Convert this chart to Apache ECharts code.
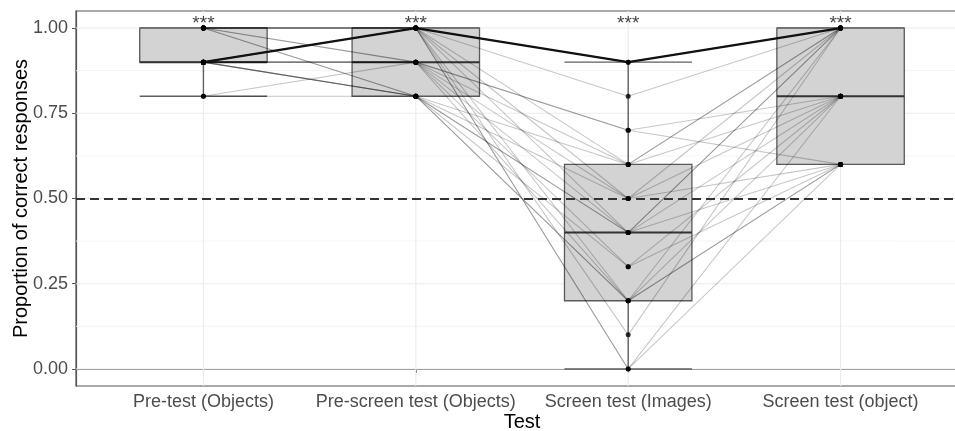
<!DOCTYPE html>
<html><head><meta charset="utf-8">
<script src="https://cdn.jsdelivr.net/npm/echarts@6/dist/echarts.min.js"></script>
<style>html,body{margin:0;padding:0;background:#fff}#c{width:955px;height:431px}</style>
</head><body><div id="c"></div>
<script>
// ---- data ----
const categories = ['Pre-test (Objects)', 'Pre-screen test (Objects)', 'Screen test (Images)', 'Screen test (object)'];
// one value per participant for each test (same participant order in every array)
const preTest   = [0.9,0.9,1.0,1.0,1.0,1.0,1.0,1.0,0.9,0.9,1.0,1.0,0.9,0.9,0.9,0.9,0.8,1.0,1.0,0.9,0.9,0.9,0.9,0.8];
const preScreen = [1.0,1.0,1.0,1.0,1.0,1.0,1.0,1.0,1.0,1.0,0.9,0.9,0.9,0.9,0.9,0.9,0.9,0.8,0.8,0.8,0.8,0.8,0.8,0.8];
const screenImg = [0.9,0.9,0.8,0.6,0.5,0.4,0.2,0.1,0.0,0.0,0.7,0.7,0.5,0.4,0.3,0.2,0.6,0.6,0.5,0.4,0.4,0.3,0.2,0.2];
const screenObj = [1.0,1.0,1.0,1.0,0.8,1.0,1.0,1.0,0.6,0.8,0.8,0.6,0.6,0.8,0.8,0.6,0.8,1.0,1.0,0.6,1.0,0.6,0.8,0.6];
const highlight = [0.9, 1.0, 0.9, 1.0];
const significance = ['***', '***', '***', '***'];
const yTicks = [0, 0.25, 0.5, 0.75, 1];
const yMinor = [0.125, 0.375, 0.625, 0.875];
const chanceLevel = 0.5;

// ---- helpers ----
const tests = [preTest, preScreen, screenImg, screenObj];
function quantile(sorted, p) {
  const h = (sorted.length - 1) * p, lo = Math.floor(h);
  const hi = Math.min(lo + 1, sorted.length - 1);
  return sorted[lo] + (h - lo) * (sorted[hi] - sorted[lo]);
}
const boxData = tests.map((arr, i) => {
  const s = arr.slice().sort((a, b) => a - b);
  const q1 = quantile(s, 0.25), med = quantile(s, 0.5), q3 = quantile(s, 0.75);
  const iqr = q3 - q1;
  const lo = Math.min(...s.filter(v => v >= q1 - 1.5 * iqr - 1e-9));
  const hi = Math.max(...s.filter(v => v <= q3 + 1.5 * iqr + 1e-9));
  return [i + 1, lo, q1, med, q3, hi];
});

const FONT = '"Liberation Sans", Arial, sans-serif';
const chart = echarts.init(document.getElementById('c'), null, { renderer: 'canvas' });

const series = [];
// grid lines (horizontal major+minor, vertical at categories)
series.push({
  type: 'custom', silent: true, z: 1, clip: false,
  data: yTicks.map(v => [1, v, 1]).concat(yMinor.map(v => [1, v, 0])),
  renderItem: function (params, api) {
    const cs = params.coordSys;
    const y = api.coord([1, api.value(1)])[1];
    return { type: 'line', shape: { x1: cs.x, y1: y, x2: cs.x + cs.width, y2: y },
      style: { stroke: api.value(2) ? '#ebebeb' : '#f3f3f3', lineWidth: api.value(2) ? 1.1 : 0.9 } };
  }
});
series.push({
  type: 'custom', silent: true, z: 1, clip: false,
  data: categories.map((c, i) => [i + 1, 0]),
  renderItem: function (params, api) {
    const cs = params.coordSys;
    const x = api.coord([api.value(0), 0])[0];
    return { type: 'line', shape: { x1: x, y1: cs.y, x2: x, y2: cs.y + cs.height },
      style: { stroke: '#ebebeb', lineWidth: 1.1 } };
  }
});
// boxplots with errorbar whiskers
series.push({
  type: 'custom', silent: true, z: 2,
  data: boxData,
  renderItem: function (params, api) {
    const x = api.value(0);
    const w = api.size([0.6, 0])[0];
    const c = api.coord([x, 0])[0];
    const yMin = api.coord([x, api.value(1)])[1];
    const yQ1 = api.coord([x, api.value(2)])[1];
    const yMed = api.coord([x, api.value(3)])[1];
    const yQ3 = api.coord([x, api.value(4)])[1];
    const yMax = api.coord([x, api.value(5)])[1];
    const x0 = c - w / 2, x1 = c + w / 2;
    const wStyle = { stroke: '#5f5f5f', lineWidth: 1.4 };
    return { type: 'group', children: [
      { type: 'line', shape: { x1: c, y1: yQ1, x2: c, y2: yMin }, style: wStyle },
      { type: 'line', shape: { x1: c, y1: yQ3, x2: c, y2: yMax }, style: wStyle },
      { type: 'line', shape: { x1: x0, y1: yMin, x2: x1, y2: yMin }, style: wStyle },
      { type: 'line', shape: { x1: x0, y1: yMax, x2: x1, y2: yMax }, style: wStyle },
      { type: 'rect', shape: { x: x0, y: yQ3, width: w, height: yQ1 - yQ3 },
        style: { fill: '#d3d3d3', stroke: '#5a5a5a', lineWidth: 1.3 } },
      { type: 'line', shape: { x1: x0, y1: yMed, x2: x1, y2: yMed }, style: { stroke: '#333333', lineWidth: 2 } }
    ] };
  }
});
// participant lines
for (let p = 0; p < preTest.length; p++) {
  series.push({
    type: 'line', silent: true, z: 3, symbol: 'none', animation: false,
    data: tests.map((arr, i) => [i + 1, arr[p]]),
    lineStyle: { color: 'rgba(0,0,0,0.22)', width: 1.1 }
  });
}
// highlighted participant
series.push({
  type: 'line', silent: true, z: 4, symbol: 'none', animation: false,
  data: highlight.map((v, i) => [i + 1, v]),
  lineStyle: { color: '#111', width: 2.2 }
});
// points
const pts = [];
tests.forEach((arr, i) => arr.forEach(v => pts.push([i + 1, v])));
series.push({
  type: 'scatter', silent: true, z: 5, symbolSize: 5, animation: false,
  data: pts, itemStyle: { color: '#000' }
});
// significance stars + chance level dashed line
series.push({
  type: 'scatter', silent: true, z: 6, symbolSize: 0, animation: false,
  data: significance.map((s, i) => [i + 1, 1.0]),
  label: { show: true, position: 'top', distance: -5, color: '#111', fontSize: 19, fontFamily: FONT,
    formatter: p => significance[p.dataIndex] },
  markLine: { silent: true, symbol: ['none', 'none'], animation: false, label: { show: false },
    lineStyle: { color: '#333', width: 1.8, type: [9, 5] },
    data: [{ yAxis: chanceLevel }] }
});

chart.setOption({
  animation: false,
  backgroundColor: '#fff',
  grid: { left: 76, top: 11, right: -13, bottom: 45, outerBoundsMode: 'none', containLabel: false,
    show: true, borderColor: '#555', borderWidth: 1.2, backgroundColor: 'transparent' },
  xAxis: {
    type: 'value', min: 0.4, max: 4.6,
    name: 'Test', nameLocation: 'middle', nameGap: 26, nameMoveOverlap: false,
    nameTextStyle: { fontSize: 20, color: '#000', fontFamily: FONT },
    axisLine: { show: true, lineStyle: { color: '#555', width: 1.2 } },
    axisTick: { show: true, customValues: [1, 2, 3, 4], length: 4, lineStyle: { color: '#555' } },
    axisLabel: { customValues: [1, 2, 3, 4], fontSize: 18, color: '#4d4d4d', fontFamily: FONT, margin: 7,
      formatter: v => categories[Math.round(v) - 1] || '' },
    splitLine: { show: false }
  },
  yAxis: {
    type: 'value', min: -0.05, max: 1.05,
    name: 'Proportion of correct responses', nameLocation: 'middle', nameGap: 45, nameMoveOverlap: false,
    nameTextStyle: { fontSize: 20, color: '#000', fontFamily: FONT },
    axisLine: { show: true, lineStyle: { color: '#555', width: 1.2 } },
    axisTick: { show: true, customValues: yTicks, length: 4, lineStyle: { color: '#555' } },
    axisLabel: { customValues: yTicks, fontSize: 18, color: '#4d4d4d', fontFamily: FONT, margin: 8,
      formatter: v => v.toFixed(2) },
    splitLine: { show: false }
  },
  series: series
});
</script>
</body></html>
